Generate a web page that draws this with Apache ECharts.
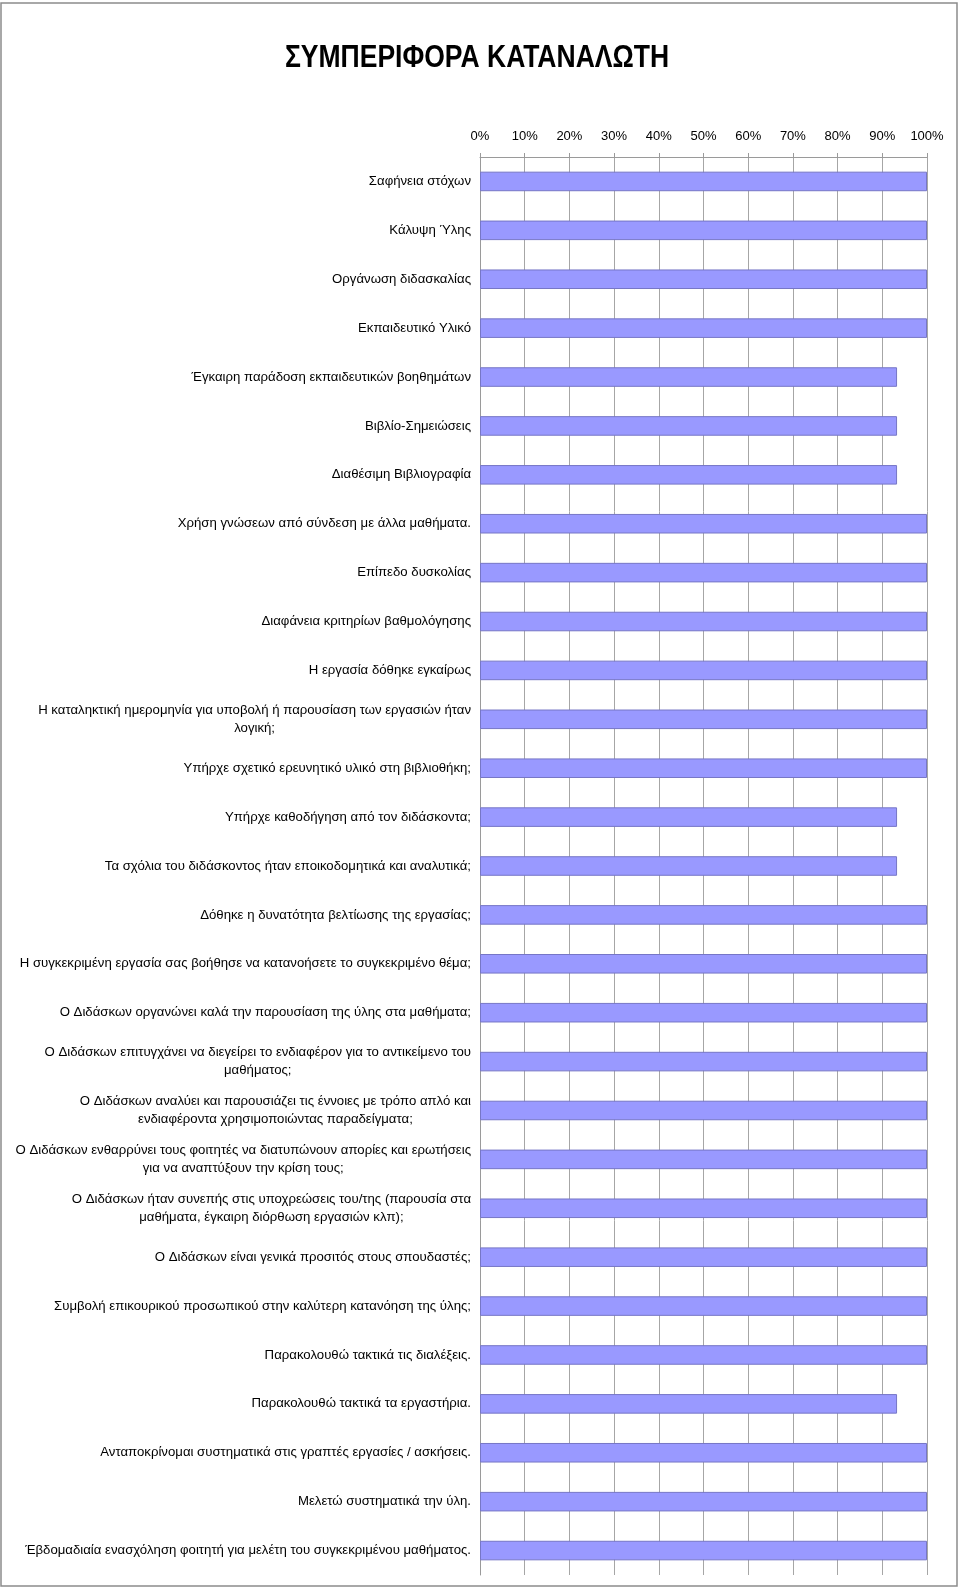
<!DOCTYPE html>
<html><head><meta charset="utf-8">
<script src="https://cdn.jsdelivr.net/npm/echarts@6/dist/echarts.min.js"></script>
<style>html,body{margin:0;padding:0;background:#fff}#c{width:960px;height:1588px}</style>
</head><body><div id="c"></div>
<script>
const titleText = 'ΣΥΜΠΕΡΙΦΟΡΑ ΚΑΤΑΝΑΛΩΤΗ';
const categories = [
  'Σαφήνεια στόχων',
  'Κάλυψη Ύλης',
  'Οργάνωση διδασκαλίας',
  'Εκπαιδευτικό Υλικό',
  'Έγκαιρη παράδοση εκπαιδευτικών βοηθημάτων',
  'Βιβλίο-Σημειώσεις',
  'Διαθέσιμη Βιβλιογραφία',
  'Χρήση γνώσεων από σύνδεση με άλλα μαθήματα.',
  'Επίπεδο δυσκολίας',
  'Διαφάνεια κριτηρίων βαθμολόγησης',
  'Η εργασία δόθηκε εγκαίρως',
  'Η καταληκτική ημερομηνία για υποβολή ή παρουσίαση των εργασιών ήταν\nλογική;',
  'Υπήρχε σχετικό ερευνητικό υλικό στη βιβλιοθήκη;',
  'Υπήρχε καθοδήγηση από τον διδάσκοντα;',
  'Τα σχόλια του διδάσκοντος ήταν εποικοδομητικά και αναλυτικά;',
  'Δόθηκε η δυνατότητα βελτίωσης της εργασίας;',
  'Η συγκεκριμένη εργασία σας βοήθησε να κατανοήσετε το συγκεκριμένο θέμα;',
  'Ο Διδάσκων οργανώνει καλά την παρουσίαση της ύλης στα μαθήματα;',
  'Ο Διδάσκων επιτυγχάνει να διεγείρει το ενδιαφέρον για το αντικείμενο του\nμαθήματος;',
  'Ο Διδάσκων αναλύει και παρουσιάζει τις έννοιες με τρόπο απλό και\nενδιαφέροντα χρησιμοποιώντας παραδείγματα;',
  'Ο Διδάσκων ενθαρρύνει τους φοιτητές να διατυπώνουν απορίες και ερωτήσεις\nγια να αναπτύξουν την κρίση τους;',
  'Ο Διδάσκων ήταν συνεπής στις υποχρεώσεις του/της (παρουσία στα\nμαθήματα, έγκαιρη διόρθωση εργασιών κλπ);',
  'Ο Διδάσκων είναι γενικά προσιτός στους σπουδαστές;',
  'Συμβολή επικουρικού προσωπικού στην καλύτερη κατανόηση της ύλης;',
  'Παρακολουθώ τακτικά τις διαλέξεις.',
  'Παρακολουθώ τακτικά τα εργαστήρια.',
  'Ανταποκρίνομαι συστηματικά στις γραπτές εργασίες / ασκήσεις.',
  'Μελετώ συστηματικά την ύλη.',
  'Έβδομαδιαία ενασχόληση φοιτητή για μελέτη του συγκεκριμένου μαθήματος.'
];
const values = [100,100,100,100,93.3,93.3,93.3,100,100,100,100,100,100,93.3,93.3,100,100,100,100,100,100,100,100,100,100,93.3,100,100,100];
const axisMin = 0, axisMax = 100, axisStep = 10;

const FONT = '"Liberation Sans", Arial, sans-serif';
const chart = echarts.init(document.getElementById('c'), null, {renderer: 'canvas'});
chart.setOption({
  animation: false,
  backgroundColor: '#ffffff',
  graphic: [
    {type: 'rect', silent: true, z: 100, shape: {x: 1, y: 3, width: 956, height: 1583},
     style: {fill: null, stroke: '#8c8c8c', lineWidth: 1.5}},
    {type: 'text', silent: true, x: 477, y: 58, scaleX: 0.855,
     style: {text: titleText, x: 0, y: 0, textAlign: 'center', textVerticalAlign: 'middle',
             font: 'bold 31px ' + FONT, fill: '#000'}}
  ],
  grid: {left: 480, right: 33, top: 157, bottom: 13, containLabel: false},
  xAxis: {
    type: 'value', position: 'top', min: axisMin, max: axisMax, interval: axisStep,
    axisLine: {show: true, lineStyle: {color: '#9a9a9a', width: 1}},
    axisTick: {show: true, length: 4, lineStyle: {color: '#9a9a9a'}},
    axisLabel: {formatter: '{value}%', color: '#000', fontSize: 13, fontFamily: FONT, margin: 14},
    splitLine: {show: true, lineStyle: {color: '#a6a6a6', width: 1}}
  },
  yAxis: {
    type: 'category', inverse: true, data: categories,
    axisLine: {show: true, lineStyle: {color: '#9a9a9a', width: 1}},
    axisTick: {show: false},
    splitLine: {show: false},
    axisLabel: {
      margin: 9, color: '#000', fontSize: 13.2, fontFamily: FONT, lineHeight: 18,
      formatter: v => v.split('\n').map(l => '{c|' + l + '}').join('\n'),
      rich: {c: {align: 'center', color: '#000', fontSize: 13.2, fontFamily: FONT, lineHeight: 18}}
    }
  },
  series: [{
    type: 'bar', data: values, barWidth: '40%', silent: true,
    itemStyle: {color: '#9999ff', borderColor: '#7676c6', borderWidth: 1}
  }]
});
</script></body></html>
